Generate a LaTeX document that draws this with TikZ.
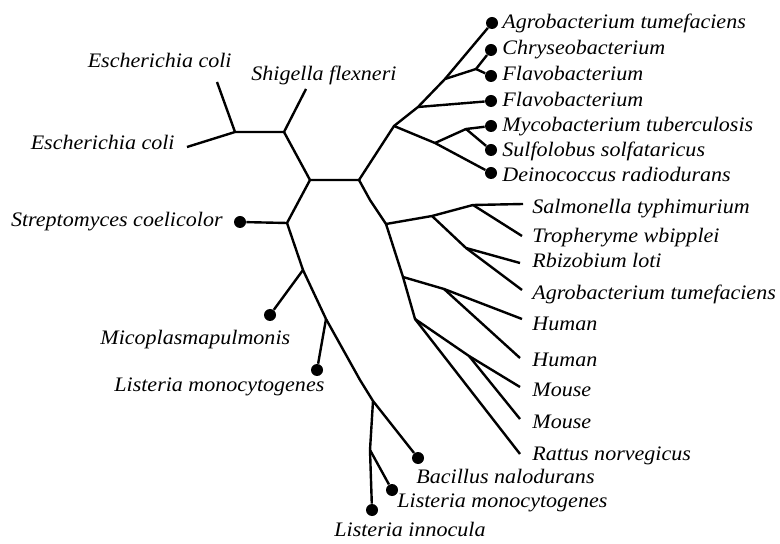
\documentclass[tikz,border=0pt]{standalone}
\usepackage{fontspec}
\setmainfont{Liberation Serif}[FakeStretch=1.07]
\tikzset{
  br/.style={line width=1.2pt, line join=round},
  dot/.style={circle, fill=black, inner sep=0pt, minimum size=6pt},
  lab/.style={inner sep=0pt, font=\fontsize{10.3}{12}\selectfont\itshape}
}
\begin{document}
\begin{tikzpicture}[x=0.5pt, y=-0.5pt]
\useasboundingbox (0,0) rectangle (780,544);
% ---- left / central trunk
\coordinate (a1) at (235,132);
\coordinate (a2) at (284,132);
\coordinate (r) at (310,180);
\coordinate (s) at (359,180);
\coordinate (t) at (287,223);
\coordinate (eTop) at (217,82);
\coordinate (eLow) at (187,147);
\coordinate (shig) at (306,89);
\node[dot] (strepD) at (240,222) {};
\coordinate (m1) at (303,270);
\node[dot] (micoD) at (270,315) {};
\coordinate (m2) at (326,319);
\node[dot] (lmD) at (317,370) {};
\coordinate (m2b) at (360,380);
\coordinate (m3) at (373,401);
\coordinate (m4) at (370,450);
\node[dot] (liD) at (372,510) {};
\node[dot] (lmtwoD) at (392,490) {};
\node[dot] (bacD) at (418,458) {};
% ---- upper right
\coordinate (u) at (394,126);
\coordinate (f1) at (418,107);
\coordinate (f2) at (445,79);
\node[dot] (agroD) at (492,23) {};
\coordinate (f3) at (476,69);
\node[dot] (chryD) at (491,50) {};
\node[dot] (flavaD) at (491,76) {};
\node[dot] (flavbD) at (491,101) {};
\coordinate (d1) at (435,143);
\coordinate (d2) at (466,129);
\node[dot] (mycoD) at (491,126) {};
\node[dot] (sulfD) at (491,150) {};
\node[dot] (deinoD) at (491,173) {};
% ---- lower right
\coordinate (sv) at (370,200);
\coordinate (v) at (386,224);
\coordinate (g1) at (432,216);
\coordinate (g2) at (473,205);
\coordinate (salE) at (523,204);
\coordinate (troE) at (522,236);
\coordinate (g3) at (466,248);
\coordinate (rbiE) at (520,263);
\coordinate (agrobE) at (522,290);
\coordinate (w) at (403,277);
\coordinate (h1) at (444,289);
\coordinate (humaE) at (522,319);
\coordinate (humbE) at (520,358);
\coordinate (xx) at (415,319);
\coordinate (y1) at (469,356);
\coordinate (mouaE) at (520,387);
\coordinate (moubE) at (520,419);
\coordinate (ratE) at (520,454);
% ---- branches
\draw[br] (eTop) -- (a1);
\draw[br] (eLow) -- (a1) -- (a2) -- (shig);
\draw[br] (a2) -- (r) -- (s);
\draw[br] (r) -- (t) -- (strepD);
\draw[br] (t) -- (m1) -- (m2) -- (m2b) -- (m3) -- (bacD);
\draw[br] (m1) -- (micoD);
\draw[br] (m2) -- (lmD);
\draw[br] (m3) -- (m4) -- (liD);
\draw[br] (m4) -- (lmtwoD);
\draw[br] (s) -- (u) -- (f1) -- (f2) -- (agroD);
\draw[br] (f1) -- (flavbD);
\draw[br] (f2) -- (f3) -- (chryD);
\draw[br] (f3) -- (flavaD);
\draw[br] (u) -- (d1) -- (deinoD);
\draw[br] (d1) -- (d2) -- (mycoD);
\draw[br] (d2) -- (sulfD);
\draw[br] (s) -- (sv) -- (v) -- (w) -- (xx) -- (ratE);
\draw[br] (v) -- (g1) -- (g2) -- (salE);
\draw[br] (g2) -- (troE);
\draw[br] (g1) -- (g3) -- (rbiE);
\draw[br] (g3) -- (agrobE);
\draw[br] (w) -- (h1) -- (humaE);
\draw[br] (h1) -- (humbE);
\draw[br] (xx) -- (y1) -- (mouaE);
\draw[br] (y1) -- (moubE);
% ---- labels left
\node[lab, anchor=base east] (lEcTop) at (232,68) {Escherichia coli};
\node[lab, anchor=base east] (lEcLow) at (175,150) {Escherichia coli};
\node[lab, anchor=base west] (lShig) at (251,81) {Shigella flexneri};
\node[lab, anchor=base east] (lStrep) at (223,227) {Streptomyces coelicolor};
\node[lab, anchor=base west] (lMico) at (100,345) {Micoplasmapulmonis};
\node[lab, anchor=base west] (lLmA) at (114,392) {Listeria monocytogenes};
% ---- labels bottom
\node[lab, anchor=base west] (lBac) at (416,483) {Bacillus nalodurans};
\node[lab, anchor=base west] (lLmB) at (397,507) {Listeria monocytogenes};
\node[lab, anchor=base west] (lLi) at (334,536) {Listeria innocula};
% ---- labels right upper
\node[lab, anchor=base west] (lAgro) at (502,29) {Agrobacterium tumefaciens};
\node[lab, anchor=base west] (lChry) at (502,55) {Chryseobacterium};
\node[lab, anchor=base west] (lFlava) at (502,81) {Flavobacterium};
\node[lab, anchor=base west] (lFlavb) at (502,107) {Flavobacterium};
\node[lab, anchor=base west] (lMyco) at (502,132) {Mycobacterium tuberculosis};
\node[lab, anchor=base west] (lSulf) at (502,157) {Sulfolobus solfataricus};
\node[lab, anchor=base west] (lDein) at (502,182) {Deinococcus radiodurans};
% ---- labels right lower
\node[lab, anchor=base west] (lSal) at (532,214) {Salmonella typhimurium};
\node[lab, anchor=base west] (lTro) at (532,243) {Tropheryme wbipplei};
\node[lab, anchor=base west] (lRbi) at (532,268) {Rbizobium loti};
\node[lab, anchor=base west] (lAgrob) at (532,300) {Agrobacterium tumefaciens};
\node[lab, anchor=base west] (lHuma) at (532,331) {Human};
\node[lab, anchor=base west] (lHumb) at (532,366) {Human};
\node[lab, anchor=base west] (lMoua) at (532,396) {Mouse};
\node[lab, anchor=base west] (lMoub) at (532,429) {Mouse};
\node[lab, anchor=base west] (lRat) at (532,460) {Rattus norvegicus};
\end{tikzpicture}
\end{document}
